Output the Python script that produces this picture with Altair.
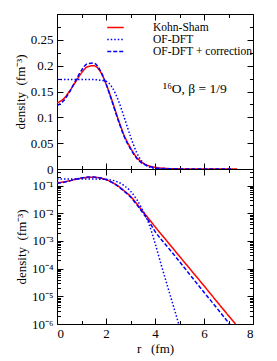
import altair as alt
import pandas as pd

# ---- values ----
r_ks = [0.0, 0.25, 0.5, 0.75, 1.0, 1.25, 1.5, 1.75, 2.0, 2.25, 2.5, 2.75, 3.0, 3.25, 3.5, 3.75, 4.0, 4.5, 5.0, 5.5, 6.0, 6.5, 7.0, 7.35]
d_ks = [0.128, 0.135, 0.150, 0.168, 0.186, 0.198, 0.200, 0.190, 0.165, 0.132, 0.096, 0.064, 0.041, 0.0225, 0.0118, 0.0063, 0.0033, 9.6e-4, 2.8e-4, 8.2e-5, 2.4e-5, 6.9e-6, 2.0e-6, 8.5e-7]

r_of = [0.0, 0.25, 0.5, 0.75, 1.0, 1.25, 1.5, 1.75, 2.0, 2.25, 2.5, 2.75, 3.0, 3.25, 3.5, 3.75, 4.0, 4.25, 4.5, 4.75, 5.0]
d_of = [0.173, 0.173, 0.173, 0.173, 0.173, 0.173, 0.173, 0.172, 0.170, 0.158, 0.133, 0.099, 0.063, 0.032, 0.0128, 0.0042, 8.5e-4, 1.4e-4, 2.5e-5, 4.5e-6, 8.0e-7]

r_cor = [0.0, 0.25, 0.5, 0.75, 1.0, 1.25, 1.5, 1.75, 2.0, 2.25, 2.5, 2.75, 3.0, 3.25, 3.5, 3.75, 4.0, 4.5, 5.0, 5.5, 6.0, 6.5, 7.0, 7.1]
d_cor = [0.123, 0.131, 0.148, 0.170, 0.191, 0.204, 0.205, 0.192, 0.165, 0.130, 0.094, 0.062, 0.039, 0.0208, 0.0104, 0.0052, 0.00224, 6.3e-4, 1.8e-4, 5.0e-5, 1.4e-5, 4.0e-6, 1.12e-6, 8.7e-7]

series_names = ["Kohn-Sham", "OF-DFT", "OF-DFT + correction"]
series_colors = ["#ff0000", "#0000ff", "#0000ff"]
series_dash = [[1, 0], [1.5, 2], [4, 2]]

x_major = [0, 2, 4, 6, 8]
x_minor = [1, 3, 5, 7]
lin_major = [0, 0.05, 0.1, 0.15, 0.2, 0.25, 0.3]
lin_minor = [0.025, 0.075, 0.125, 0.175, 0.225, 0.275]
lin_labels = [0, 0.05, 0.1, 0.15, 0.2, 0.25]
log_major = [1e-6, 1e-5, 1e-4, 1e-3, 1e-2, 1e-1]
log_minor = [k * 10.0 ** e for e in range(-6, 0) for k in range(2, 10) if k * 10.0 ** e <= 0.4]

annot_r = [4.33]
annot_d = [0.155]
annot_text = ["\u00b9\u2076O, \u03b2 = 1/9"]

FONT = "Liberation Serif"
W, H = 196, 155

frames = []
for name, rs, ds in zip(series_names, [r_ks, r_of, r_cor], [d_ks, d_of, d_cor]):
    frames.append(pd.DataFrame({"r": rs, "density": ds, "series": name, "order": list(range(len(rs)))}))
df = pd.concat(frames, ignore_index=True)
annot_df = pd.DataFrame({"r": annot_r, "density": annot_d, "label": annot_text})

x_scale = alt.Scale(domain=[0, 8], nice=False, zero=False)


def tick_axis(orient, offset, values, size):
    return alt.Axis(orient=orient, offset=offset, values=values, tickSize=size,
                    tickColor="black", tickWidth=1, labels=False, domain=False,
                    grid=False, title=None, minExtent=0, maxExtent=0)


def panel(y_scale, y_axis, x_axis, y_maj, y_min, legend, annotate):
    base = alt.Chart(df)
    lines = base.mark_line(clip=True, strokeWidth=1.5, interpolate="monotone").encode(
        x=alt.X("r:Q", scale=x_scale, axis=x_axis),
        y=alt.Y("density:Q", scale=y_scale, axis=y_axis),
        color=alt.Color("series:N", scale=alt.Scale(domain=series_names, range=series_colors), legend=legend),
        strokeDash=alt.StrokeDash("series:N", scale=alt.Scale(domain=series_names, range=series_dash), legend=legend),
        order="order:Q",
    )
    layers = [lines]
    specs = [
        ("top", "right", x_minor, y_min, 3.5),
        ("bottom", "left", x_minor, y_min, 3.5),
        ("top", "right", x_major, y_maj, 6),
        ("bottom", "left", x_major, y_maj, 6),
    ]
    for xo, yo, xv, yv, sz in specs:
        layers.append(base.mark_point(opacity=0, clip=True, size=1).encode(
            x=alt.X("r:Q", scale=x_scale, axis=tick_axis(xo, -H, xv, sz)),
            y=alt.Y("density:Q", scale=y_scale, axis=tick_axis(yo, -W, yv, sz)),
        ))
    if annotate:
        layers.append(alt.Chart(annot_df).mark_text(align="left", baseline="middle", font=FONT,
                                                     fontSize=13.5, color="black").encode(
            x=alt.X("r:Q", scale=x_scale, axis=None),
            y=alt.Y("density:Q", scale=y_scale, axis=None),
            text="label:N",
        ))
    return alt.layer(*layers).resolve_axis(x="independent", y="independent").properties(width=W, height=H)


legend = alt.Legend(orient="none", legendX=52, legendY=7, offset=0, title=None,
                    symbolType="M-1.5,0H1.5", symbolSize=121, symbolStrokeWidth=1.5,
                    labelFont=FONT, labelFontSize=11.5, labelColor="black",
                    labelOffset=31, rowPadding=0, padding=0)

ytitle = "density\u00a0\u00a0(fm\u207b\u00b3)"

top_y_axis = alt.Axis(values=lin_labels, format="~g", ticks=False, domain=False, grid=False,
                      labelFont=FONT, labelFontSize=13, labelPadding=4, labelColor="black",
                      title=ytitle, titleFont=FONT, titleFontSize=13, titleFontWeight="normal",
                      titleColor="black", titlePadding=3)
top_x_axis = alt.Axis(labels=False, ticks=False, domain=False, grid=False, title=None, minExtent=0, maxExtent=0)

bot_y_axis = alt.Axis(values=log_major, ticks=False, domain=False, grid=False,
                      labelExpr="'10' + ['\u207b\u2076','\u207b\u2075','\u207b\u2074','\u207b\u00b3','\u207b\u00b2','\u207b\u00b9'][round(log(datum.value)/LN10)+6]",
                      labelFont=FONT, labelFontSize=13, labelPadding=4, labelColor="black",
                      title=ytitle, titleFont=FONT, titleFontSize=13, titleFontWeight="normal",
                      titleColor="black", titlePadding=3)
bot_x_axis = alt.Axis(values=x_major, ticks=False, domain=False, grid=False,
                      labelFont=FONT, labelFontSize=13, labelPadding=3, labelColor="black",
                      title="r\u00a0\u00a0\u00a0(fm)", titleFont=FONT, titleFontSize=13,
                      titleFontWeight="normal", titleColor="black", titlePadding=2)

top = panel(alt.Scale(domain=[0, 0.3], nice=False, zero=False), top_y_axis, top_x_axis,
            lin_major, lin_minor, legend, True)
bottom = panel(alt.Scale(type="log", domain=[1e-6, 0.4], nice=False), bot_y_axis, bot_x_axis,
               log_major, log_minor, None, False)

chart = alt.vconcat(top, bottom, spacing=0, bounds="flush").resolve_scale(
    color="independent", strokeDash="independent"
).properties(
    padding={"left": 5, "top": 5, "right": 5, "bottom": 3}
).configure_view(stroke="black", strokeWidth=1)

chart.save("out.html", embed_options={"renderer": "svg", "actions": False})
